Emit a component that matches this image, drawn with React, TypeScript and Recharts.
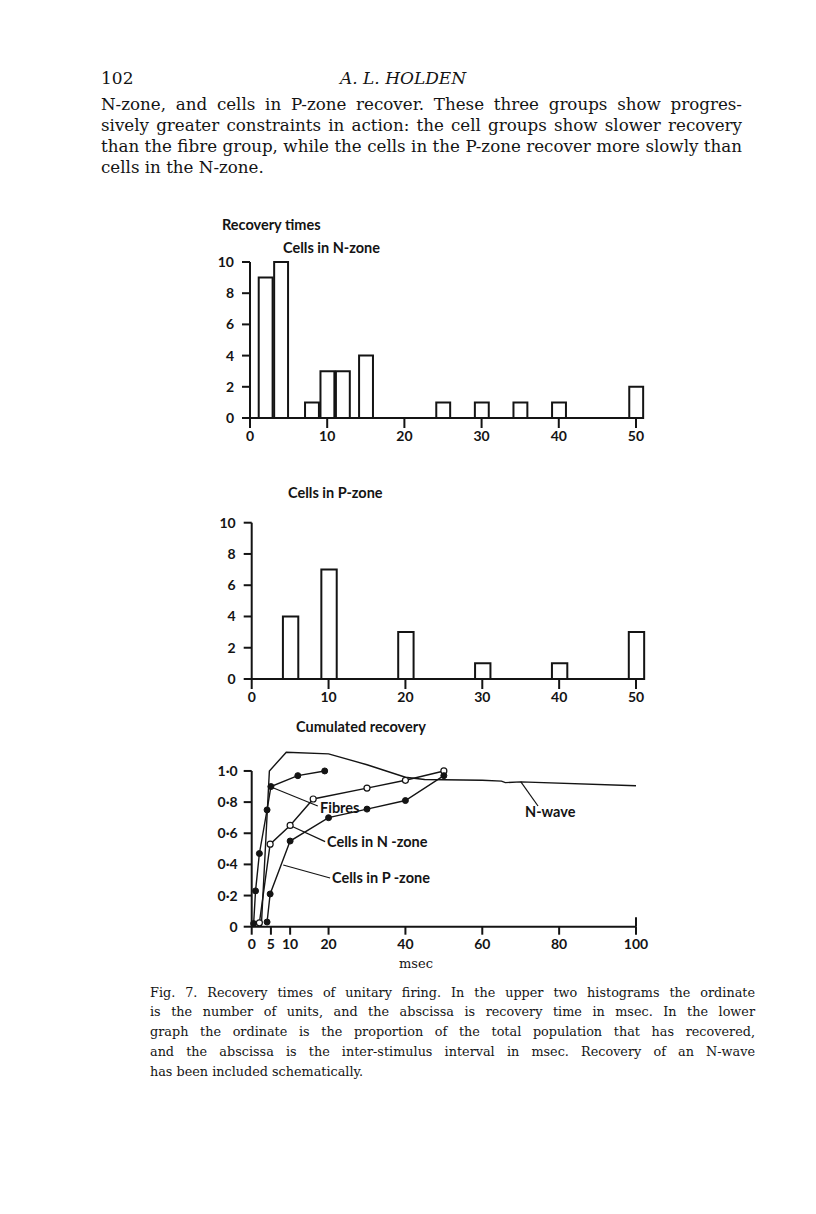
import React from 'react';
import {Bar, BarChart, Line, LineChart, ReferenceLine, XAxis, YAxis} from 'recharts';

// upper histogram: cells in N-zone (bin centre in msec, number of units)
const nZoneBins = [2, 4, 8, 10, 12, 15, 25, 30, 35, 40, 50];
const nZoneCounts = [9, 10, 1, 3, 3, 4, 1, 1, 1, 1, 2];

// middle histogram: cells in P-zone
const pZoneBins = [5, 10, 20, 30, 40, 50];
const pZoneCounts = [4, 7, 3, 1, 1, 3];

const histTicks = [0, 10, 20, 30, 40, 50];
const countTicks = [0, 2, 4, 6, 8, 10];
const binWidth = 2;

// lower graph: cumulated recovery (msec, proportion recovered)
const fibresX = [0.5, 1, 2, 4, 5, 12, 19];
const fibresY = [0.02, 0.23, 0.47, 0.75, 0.9, 0.97, 1.0];
const nCellsX = [2, 4.8, 10, 16, 30, 40, 50];
const nCellsY = [0.025, 0.53, 0.65, 0.82, 0.89, 0.94, 1.0];
const pCellsX = [4, 4.8, 10, 20, 30, 40, 50];
const pCellsY = [0.03, 0.21, 0.55, 0.7, 0.755, 0.81, 0.97];
const nWaveX = [2.5, 4.6, 9, 20, 30, 40, 45, 60, 65, 66, 70, 100];
const nWaveY = [0, 1.0, 1.12, 1.11, 1.04, 0.96, 0.945, 0.94, 0.935, 0.925, 0.93, 0.905];
const msecTicks = [0, 5, 10, 20, 40, 60, 80, 100];
const proportionTicks = [0, 0.2, 0.4, 0.6, 0.8, 1.0];

const bodyLines = [
    'N-zone, and cells in P-zone recover. These three groups show progres-',
    'sively greater constraints in action: the cell groups show slower recovery',
    'than the fibre group, while the cells in the P-zone recover more slowly than',
    'cells in the N-zone.',
];

const captionLines = [
    'Fig. 7.  Recovery times of unitary firing. In the upper two histograms the ordinate',
    'is the number of units, and the abscissa is recovery time in msec. In the lower',
    'graph the ordinate is the proportion of the total population that has recovered,',
    'and the abscissa is the inter-stimulus interval in msec. Recovery of an N-wave',
    'has been included schematically.',
];

const pts = (xs: number[], ys: number[]) => xs.map((x, i) => ({x, y: ys[i]}));

const INK = '#141414';
const SANS = 'Lato, "Open Sans", sans-serif';
const SERIF = '"DejaVu Serif", serif';

const Txt = ({x, y, size, children, style}: any) => (
    <div style={{
        position: 'absolute', left: x, top: y - size / 2, fontSize: size, lineHeight: `${size}px`,
        whiteSpace: 'pre', color: INK, ...style,
    }}>{children}</div>
);

const Justified = ({x, y, width, size, lines, gap, family}: any) => (
    <>
        {lines.map((l: string, i: number) => (
            <div key={i} style={{
                position: 'absolute', left: x, top: y + i * gap - size / 2, width, fontSize: size,
                lineHeight: `${size}px`, fontFamily: family, color: INK, whiteSpace: 'nowrap',
                textAlign: 'justify', textAlignLast: i === lines.length - 1 ? 'left' : 'justify',
            }}>{l}</div>
        ))}
    </>
);

const tickStyle = {fill: INK, fontSize: 14, fontFamily: SANS, fontWeight: 700};

const Histogram = ({bins, counts, top, margin}: any) => {
    const width = 470;
    const height = 210;
    const plotWidth = width - margin.left - 40 - margin.right;
    const data = bins.map((b: number, i: number) => ({msec: b, count: counts[i]}));
    return (
        <div style={{position: 'absolute', left: 190, top}}>
            <BarChart width={width} height={height} data={data} margin={margin}>
                <XAxis dataKey="msec" type="number" domain={[0, 51]} ticks={histTicks}
                       axisLine={{stroke: INK, strokeWidth: 2}} tickLine={{stroke: INK, strokeWidth: 2}}
                       tickSize={10} tickMargin={3} tick={tickStyle} height={30}/>
                <YAxis type="number" domain={[0, 10]} ticks={countTicks} width={40}
                       axisLine={{stroke: INK, strokeWidth: 2}} tickLine={{stroke: INK, strokeWidth: 2}}
                       tickSize={8} tickMargin={8} tick={tickStyle}/>
                <Bar dataKey="count" fill="#fff" stroke={INK} strokeWidth={2}
                     barSize={binWidth * plotWidth / 51} isAnimationActive={false}/>
            </BarChart>
        </div>
    );
};

const formatProportion = (v: number) => (v === 0 ? '0' : v.toFixed(1).replace('.', '\u00b7'));

const Recovery = () => (
    <div style={{position: 'absolute', left: 190, top: 740}}>
        <LineChart width={470} height={230} margin={{top: 7.6, right: 24, bottom: 13.3, left: 21.7}}>
            <XAxis dataKey="x" type="number" domain={[0, 100]} ticks={msecTicks} allowDuplicatedCategory={false}
                   axisLine={{stroke: INK, strokeWidth: 2}} tickLine={{stroke: INK, strokeWidth: 2}}
                   tickSize={8} tickMargin={4} tick={tickStyle} height={30} interval={0}/>
            <YAxis type="number" domain={[0, 1.15]} ticks={proportionTicks} width={40} axisLine={false}
                   tickLine={{stroke: INK, strokeWidth: 2}} tickSize={8} tickMargin={6}
                   tick={tickStyle} tickFormatter={formatProportion}/>
            <ReferenceLine segment={[{x: 0, y: 0}, {x: 0, y: 1}]} stroke={INK} strokeWidth={2}/>
            <ReferenceLine segment={[{x: 100, y: 0}, {x: 100, y: 0.06}]} stroke={INK} strokeWidth={2}/>
            <ReferenceLine segment={[{x: 5.2, y: 0.895}, {x: 17.2, y: 0.775}]} stroke={INK} strokeWidth={1.2}/>
            <ReferenceLine segment={[{x: 10, y: 0.65}, {x: 19.1, y: 0.546}]} stroke={INK} strokeWidth={1.2}/>
            <ReferenceLine segment={[{x: 8.2, y: 0.396}, {x: 20.4, y: 0.313}]} stroke={INK} strokeWidth={1.2}/>
            <ReferenceLine segment={[{x: 70, y: 0.931}, {x: 74.5, y: 0.775}]} stroke={INK} strokeWidth={1.2}/>
            <Line data={pts(nWaveX, nWaveY)} dataKey="y" type="linear" stroke={INK} strokeWidth={1.4}
                  dot={false} isAnimationActive={false}/>
            <Line data={pts(fibresX, fibresY)} dataKey="y" type="linear" stroke={INK} strokeWidth={1.4}
                  dot={{r: 3, fill: INK, stroke: INK, strokeWidth: 1}} isAnimationActive={false}/>
            <Line data={pts(nCellsX, nCellsY)} dataKey="y" type="linear" stroke={INK} strokeWidth={1.4}
                  dot={{r: 3, fill: '#fff', stroke: INK, strokeWidth: 1.2}} isAnimationActive={false}/>
            <Line data={pts(pCellsX, pCellsY)} dataKey="y" type="linear" stroke={INK} strokeWidth={1.4}
                  dot={{r: 3, fill: INK, stroke: INK, strokeWidth: 1}} isAnimationActive={false}/>
        </LineChart>
    </div>
);

export default function App() {
    return (
        <div style={{position: 'absolute', left: 0, top: 0, width: 816, height: 1214, background: '#fff',
            overflow: 'hidden'}}>
            <Txt x={101} y={78} size={17} style={{fontFamily: SERIF}}>102</Txt>
            <Txt x={340} y={78} size={17} style={{fontFamily: SERIF, fontStyle: 'italic'}}>A. L. HOLDEN</Txt>
            <Justified x={101} y={104} width={641} size={16.7} gap={21.2} lines={bodyLines} family={SERIF}/>

            <Txt x={222} y={225} size={14.5} style={{fontFamily: SANS, fontWeight: 700}}>Recovery times</Txt>
            <Txt x={283} y={248} size={14.5} style={{fontFamily: SANS, fontWeight: 700}}>Cells in N-zone</Txt>
            <Histogram bins={nZoneBins} counts={nZoneCounts} top={240}
                       margin={{top: 22, right: 16.3, bottom: 2, left: 20}}/>

            <Txt x={288} y={493} size={14.5} style={{fontFamily: SANS, fontWeight: 700}}>Cells in P-zone</Txt>
            <Histogram bins={pZoneBins} counts={pZoneCounts} top={500}
                       margin={{top: 22.7, right: 16.3, bottom: 1, left: 21.7}}/>

            <Txt x={296} y={727} size={14.5} style={{fontFamily: SANS, fontWeight: 700}}>Cumulated recovery</Txt>
            <Recovery/>
            <Txt x={320} y={808} size={14.5} style={{fontFamily: SANS, fontWeight: 700}}>Fibres</Txt>
            <Txt x={327} y={842} size={14.5} style={{fontFamily: SANS, fontWeight: 700}}>Cells in N -zone</Txt>
            <Txt x={332} y={878} size={14.5} style={{fontFamily: SANS, fontWeight: 700}}>Cells in P -zone</Txt>
            <Txt x={525} y={812} size={14.5} style={{fontFamily: SANS, fontWeight: 700}}>N-wave</Txt>
            <Txt x={399} y={963} size={13} style={{fontFamily: SERIF}}>msec</Txt>

            <Justified x={150} y={993} width={605} size={12.8} gap={19.8} lines={captionLines} family={SERIF}/>
        </div>
    );
}
